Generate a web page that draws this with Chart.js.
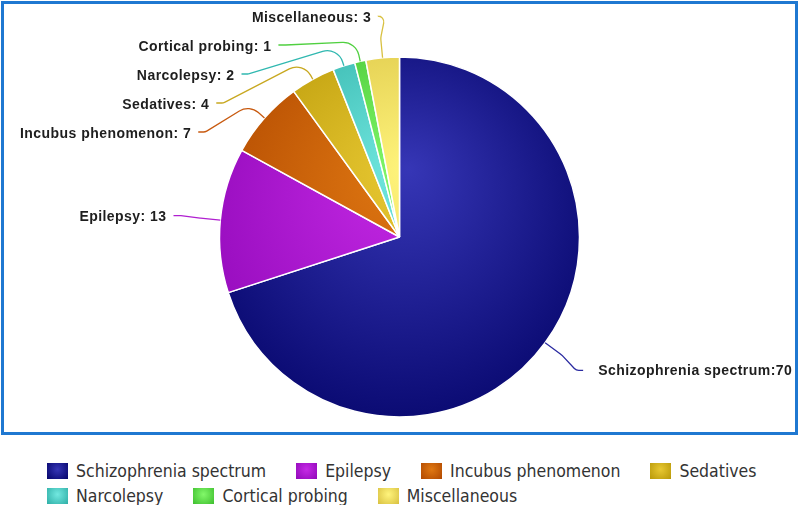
<!DOCTYPE html>
<html>
<head>
<meta charset="utf-8">
<script src="https://cdn.jsdelivr.net/npm/chart.js@4.4.1/dist/chart.umd.min.js"></script>
<style>
    body { margin: 0; background: #fff; width: 800px; height: 505px; overflow: hidden; position: relative; }
    #chartBox { position: absolute; left: 1px; top: 1px; width: 791px; height: 428px; border: 3px solid #1f78d1; }
    #legend { position: absolute; left: 47px; top: 458px; width: 745px; display: flex; flex-wrap: wrap;
              font-family: "DejaVu Sans Condensed", "DejaVu Sans", sans-serif; font-size: 17.5px; color: #333; }
    .item { display: flex; align-items: center; height: 25px; margin-right: 30px; }
    .swatch { width: 21px; height: 16px; margin-right: 8px; }
</style>
</head>
<body>
<div id="chartBox"><canvas id="pieChart" width="791" height="428"></canvas></div>
<div id="legend"></div>
<script>
const categories = ['Schizophrenia spectrum', 'Epilepsy', 'Incubus phenomenon', 'Sedatives', 'Narcolepsy', 'Cortical probing', 'Miscellaneous'];
const counts = [70, 13, 7, 4, 2, 1, 3];

// slice shading: light centre -> dark rim
const lightColors = ['#3636b6', '#c62ae6', '#e07812', '#e8c832', '#72e8e0', '#82f86a', '#fff47c'];
const darkColors = ['#05056a', '#9008b8', '#b04800', '#b89808', '#2eaea6', '#3ebe2e', '#d8c040'];
const lineColors = ['#2a2aa0', '#b020d0', '#c85a10', '#c8a820', '#30b8b0', '#50d040', '#d8c040'];

function sliceLabel(i) {
    // the big slice has no space after the colon in the original
    return categories[i] + ':' + (i === 0 ? '' : ' ') + counts[i];
}

// build the legend below the box
const legendEl = document.getElementById('legend');
categories.forEach((name, i) => {
    const item = document.createElement('div');
    item.className = 'item';
    item.innerHTML = `<span class="swatch" style="background: radial-gradient(circle at 50% 40%, ${lightColors[i]}, ${darkColors[i]})"></span>${name}`;
    legendEl.appendChild(item);
});

// leader lines + labels around the pie
const leaderLabels = {
    id: 'leaderLabels',
    afterDatasetsDraw(chart) {
        const ctx = chart.ctx;
        const arcs = chart.getDatasetMeta(0).data;
        const spacing = 29;
        const topLimit = 12;
        const items = arcs.map((arc, i) => {
            const p = arc.getProps(['x', 'y', 'startAngle', 'endAngle', 'outerRadius'], true);
            const mid = (p.startAngle + p.endAngle) / 2;
            const R = p.outerRadius + 47;
            return {
                i, p, mid, R,
                left: Math.cos(mid) < 0,
                x: p.x + R * Math.cos(mid),
                y: p.y + R * Math.sin(mid)
            };
        });

        // push crowded labels on the left side downwards
        const lefts = items.filter(d => d.left).sort((a, b) => a.y - b.y);
        let prev = -Infinity;
        lefts.forEach(d => {
            let y = Math.max(d.y, topLimit, prev + spacing);
            if (y > Math.max(d.y, topLimit)) {
                const dy = y - d.p.y;
                d.x = d.p.x - Math.sqrt(Math.max(d.R * d.R - dy * dy, 0));
            }
            d.y = y;
            prev = y;
        });

        ctx.save();
        ctx.font = 'bold 14px "Liberation Sans", Arial, sans-serif';
        ctx.letterSpacing = '0.45px';
        items.forEach(d => {
            const { p, mid } = d;
            const x0 = p.x + p.outerRadius * Math.cos(mid);
            const y0 = p.y + p.outerRadius * Math.sin(mid);
            const x1 = p.x + (p.outerRadius + 20) * Math.cos(mid);
            const y1 = p.y + (p.outerRadius + 20) * Math.sin(mid);
            const qx = d.left ? d.x + 7 : d.x - 7;

            ctx.beginPath();
            ctx.moveTo(x0, y0);
            ctx.arcTo(x1, y1, qx, d.y, 16);
            ctx.arcTo(qx, d.y, d.x, d.y, 6);
            ctx.lineTo(d.x, d.y);
            ctx.strokeStyle = lineColors[d.i];
            ctx.lineWidth = 1.3;
            ctx.stroke();

            ctx.fillStyle = '#1e1e1e';
            ctx.textBaseline = 'middle';
            if (d.left) {
                ctx.textAlign = 'right';
                ctx.fillText(sliceLabel(d.i), d.x - 7, d.y + 2);
            } else {
                ctx.textAlign = 'left';
                ctx.fillText(sliceLabel(d.i), d.x + 15, d.y + 1);
            }
        });
        ctx.restore();
    }
};

new Chart(document.getElementById('pieChart').getContext('2d'), {
    type: 'pie',
    data: {
        labels: categories,
        datasets: [{
            data: counts,
            backgroundColor: function (context) {
                const chart = context.chart;
                const area = chart.chartArea;
                const i = context.dataIndex;
                if (!area) return darkColors[i];
                const cx = (area.left + area.right) / 2;
                const cy = (area.top + area.bottom) / 2;
                const r = Math.min(area.right - area.left, area.bottom - area.top) / 2;
                const g = chart.ctx.createRadialGradient(cx + 0.05 * r, cy - 0.38 * r, 0, cx, cy - 0.1 * r, r * 1.3);
                g.addColorStop(0, lightColors[i]);
                g.addColorStop(1, darkColors[i]);
                return g;
            },
            borderColor: '#ffffff',
            borderWidth: 1.5,
            radius: 180
        }]
    },
    options: {
        responsive: false,
        animation: false,
        events: [],
        layout: {
            padding: { top: 53, bottom: 15 }
        },
        plugins: {
            legend: { display: false },
            tooltip: { enabled: false }
        }
    },
    plugins: [leaderLabels]
});
</script>
</body>
</html>
